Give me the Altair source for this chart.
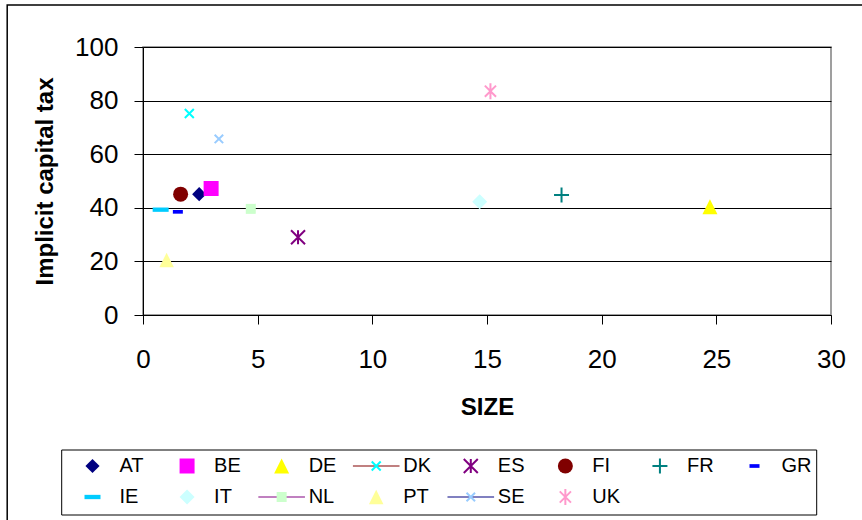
import altair as alt
import pandas as pd

# ---- data ----
countries = ["AT", "BE", "DE", "DK", "ES", "FI", "FR", "GR", "IE", "IT", "NL", "PT", "SE", "UK"]
size_vals = [2.45, 2.97, 24.72, 2.02, 6.76, 1.64, 18.25, 1.52, 0.77, 14.68, 4.70, 1.03, 3.31, 15.15]
tax_vals = [45.1, 47.2, 40.4, 75.2, 29.0, 45.1, 44.8, 38.5, 39.3, 42.3, 39.6, 20.5, 65.7, 83.5]

x_ticks = [0, 5, 10, 15, 20, 25, 30]
y_ticks = [0, 20, 40, 60, 80, 100]
x_title = "SIZE"
y_title = "Implicit capital tax"

# ---- styles (Excel-like markers) ----
TRI = "M0,-1L1,1L-1,1Z"
XS = "M-1,-1L1,1M1,-1L-1,1"
AST_ES = "M-1,-1L1,1M1,-1L-1,1M0,-1L0,1"
AST_UK = "M-0.7,-0.7L0.7,0.7M0.7,-0.7L-0.7,0.7M0,-1L0,1"
PLUS = "M-1,0L1,0M0,-1L0,1"
DASH_IE = "M-1,-0.27L1,-0.27L1,0.27L-1,0.27Z"
DASH_GR = "M-1,-0.37L1,-0.37L1,0.37L-1,0.37Z"
LINE = "M-1,0L1,0"

marker_colors = ["#000080", "#FF00FF", "#FFFF00", "#00FFFF", "#800080", "#800000", "#008080",
                 "#0000FF", "#00CCFF", "#CCFFFF", "#CCFFCC", "#FFFF99", "#99CCFF", "#FF99CC"]
marker_shapes = ["diamond", "square", TRI, XS, AST_ES, "circle", PLUS,
                 DASH_GR, DASH_IE, "diamond", "square", TRI, XS, AST_UK]
marker_sizes = [200, 225, 225, 81, 196, 225, 225, 100, 256, 225, 100, 210, 72, 256]
hollow = ["DK", "ES", "FR", "SE", "UK"]
line_series = ["DK", "NL", "SE"]
line_colors = ["#C08080", "#C080C0", "#8080C0"]
legend_cols = 8

FONT = "Liberation Sans"

df = pd.DataFrame({"country": countries, "size": size_vals, "tax": tax_vals})
df["hollow"] = df["country"].isin(hollow)
leg = pd.DataFrame({"country": countries})
leg["col"] = [i % legend_cols for i in range(len(countries))]
leg["row"] = [i // legend_cols for i in range(len(countries))]
leg["hollow"] = leg["country"].isin(hollow)

shape_enc = alt.Shape("country:N", scale=alt.Scale(domain=countries, range=marker_shapes), legend=None)
color_enc = alt.Color("country:N", scale=alt.Scale(domain=countries, range=marker_colors), legend=None)
size_enc = alt.Size("country:N", scale=alt.Scale(type="ordinal", domain=countries, range=marker_sizes), legend=None)

xs = alt.Scale(domain=[0, 30], nice=False, zero=False)
ys = alt.Scale(domain=[0, 100], nice=False, zero=False)

x_axis = alt.Axis(values=x_ticks, title=x_title, grid=False, labelFont=FONT, labelFontSize=26,
                  labelColor="black", labelPadding=22, tickSize=9, tickColor="black", domainColor="black",
                  titleFont=FONT, titleFontSize=24, titleFontWeight="bold", titleColor="black",
                  titleY=92, titleBaseline="middle", labelFlush=False)
y_axis = alt.Axis(values=y_ticks, title=y_title, grid=True, gridColor="black", gridWidth=1,
                  labelFont=FONT, labelFontSize=26, labelColor="black", labelPadding=16,
                  tickSize=9, tickColor="black", domainColor="black",
                  titleFont=FONT, titleFontSize=24, titleFontWeight="bold", titleColor="black",
                  titleX=-98, titleY=134, titleBaseline="middle", titleAngle=270)

base = alt.Chart(df)
filled_pts = base.transform_filter("!datum.hollow").mark_point(filled=True, opacity=1, strokeWidth=0).encode(
    x=alt.X("size:Q", scale=xs, axis=x_axis),
    y=alt.Y("tax:Q", scale=ys, axis=y_axis),
    shape=shape_enc, color=color_enc, size=size_enc)
hollow_pts = base.transform_filter("datum.hollow").mark_point(filled=False, opacity=1, strokeWidth=2).encode(
    x=alt.X("size:Q", scale=xs, axis=None),
    y=alt.Y("tax:Q", scale=ys, axis=None),
    shape=shape_enc, color=color_enc, size=size_enc)

# ---- legend (drawn from the same data via its own scales) ----
lx = alt.Scale(domain=[0, legend_cols - 1], range=[-50.5, 611.5], nice=False, zero=False)
ly = alt.Scale(domain=[0, 1], range=[419, 450], nice=False, zero=False)
lbase = alt.Chart(leg)
leg_lines = lbase.transform_filter(alt.FieldOneOfPredicate(field="country", oneOf=line_series)).mark_point(
    shape=LINE, size=2172, filled=False, strokeWidth=2, opacity=1).encode(
    x=alt.X("col:Q", scale=lx, axis=None),
    y=alt.Y("row:Q", scale=ly, axis=None),
    stroke=alt.Stroke("country:N", scale=alt.Scale(domain=line_series, range=line_colors), legend=None))
leg_filled = lbase.transform_filter("!datum.hollow").mark_point(filled=True, opacity=1, strokeWidth=0).encode(
    x=alt.X("col:Q", scale=lx, axis=None),
    y=alt.Y("row:Q", scale=ly, axis=None),
    shape=shape_enc, color=color_enc, size=size_enc)
leg_hollow = lbase.transform_filter("datum.hollow").mark_point(filled=False, opacity=1, strokeWidth=2).encode(
    x=alt.X("col:Q", scale=lx, axis=None),
    y=alt.Y("row:Q", scale=ly, axis=None),
    shape=shape_enc, color=color_enc, size=size_enc)
leg_text = lbase.mark_text(align="left", baseline="middle", dx=27, font=FONT, fontSize=20, color="black").encode(
    x=alt.X("col:Q", scale=lx, axis=None),
    y=alt.Y("row:Q", scale=ly, axis=None),
    text="country:N")

one = alt.Chart(pd.DataFrame({"k": [0]}))
leg_box = one.mark_rect(fillOpacity=0, stroke="black", strokeWidth=1).encode(
    x=alt.value(-81.3), x2=alt.value(673.7), y=alt.value(403), y2=alt.value(468))
frame = one.mark_rect(fillOpacity=0, stroke="black", strokeWidth=1.5).encode(
    x=alt.value(-135.8), x2=alt.value(800), y=alt.value(-42), y2=alt.value(560))

chart = alt.layer(filled_pts, hollow_pts, leg_lines, leg_filled, leg_hollow, leg_text, leg_box, frame).resolve_scale(
    x="independent", y="independent"
).properties(
    width=688, height=268,
    autosize=alt.AutoSizeParams(type="none"),
    padding={"left": 143, "top": 47, "right": 31, "bottom": 205},
    background="white",
).configure_view(stroke="#808080", strokeWidth=1.5)

chart.save("out.html", embed_options={"renderer": "svg", "actions": False})
